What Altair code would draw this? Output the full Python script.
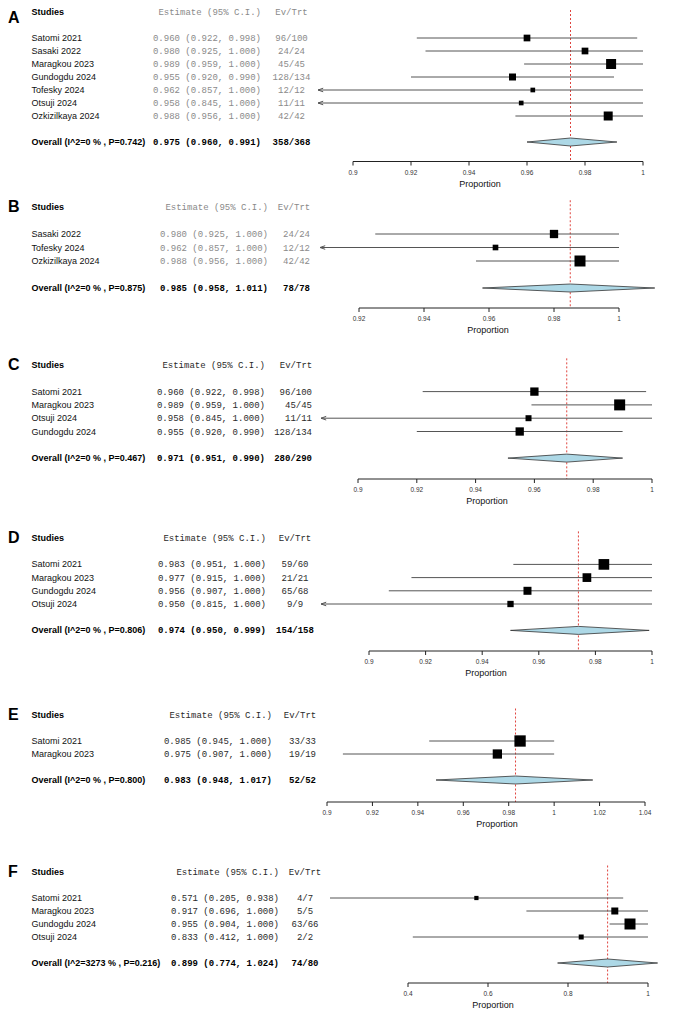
import altair as alt
import pandas as pd

# ---------------- data ----------------
A_studies = ["Satomi 2021", "Sasaki 2022", "Maragkou 2023", "Gundogdu 2024",
             "Tofesky 2024", "Otsuji 2024", "Ozkizilkaya 2024"]
A_est = [0.960, 0.980, 0.989, 0.955, 0.962, 0.958, 0.988]
A_lo = [0.922, 0.925, 0.959, 0.920, 0.857, 0.845, 0.956]
A_hi = [0.998, 1.000, 1.000, 0.990, 1.000, 1.000, 1.000]
A_ev = [96, 24, 45, 128, 12, 11, 42]
A_n = [100, 24, 45, 134, 12, 11, 42]
A_w = [45, 45, 100, 49, 22, 22, 81]
A_overall = [0.975, 0.960, 0.991, 358, 368]
A_label = "Overall (I^2=0 % , P=0.742)"

B_studies = ["Sasaki 2022", "Tofesky 2024", "Ozkizilkaya 2024"]
B_est = [0.980, 0.962, 0.988]
B_lo = [0.925, 0.857, 0.956]
B_hi = [1.000, 1.000, 1.000]
B_ev = [24, 12, 42]
B_n = [24, 12, 42]
B_w = [69, 32, 121]
B_overall = [0.985, 0.958, 1.011, 78, 78]
B_label = "Overall (I^2=0 % , P=0.875)"

C_studies = ["Satomi 2021", "Maragkou 2023", "Otsuji  2024", "Gundogdu 2024"]
C_est = [0.960, 0.989, 0.958, 0.955]
C_lo = [0.922, 0.959, 0.845, 0.920]
C_hi = [0.998, 1.000, 1.000, 0.990]
C_ev = [96, 45, 11, 128]
C_n = [100, 45, 11, 134]
C_w = [69, 121, 36, 69]
C_overall = [0.971, 0.951, 0.990, 280, 290]
C_label = "Overall (I^2=0 % , P=0.467)"

D_studies = ["Satomi 2021", "Maragkou 2023", "Gundogdu 2024", "Otsuji 2024"]
D_est = [0.983, 0.977, 0.956, 0.950]
D_lo = [0.951, 0.915, 0.907, 0.815]
D_hi = [1.000, 1.000, 1.000, 1.000]
D_ev = [59, 21, 65, 9]
D_n = [60, 21, 68, 9]
D_w = [114, 76, 64, 40]
D_overall = [0.974, 0.950, 0.999, 154, 158]
D_label = "Overall (I^2=0 % , P=0.806)"

E_studies = ["Satomi 2021", "Maragkou 2023"]
E_est = [0.985, 0.975]
E_lo = [0.945, 0.907]
E_hi = [1.000, 1.000]
E_ev = [33, 19]
E_n = [33, 19]
E_w = [128, 86]
E_overall = [0.983, 0.948, 1.017, 52, 52]
E_label = "Overall (I^2=0 % , P=0.800)"

F_studies = ["Satomi 2021", "Maragkou 2023", "Gundogdu 2024", "Otsuji 2024"]
F_est = [0.571, 0.917, 0.955, 0.833]
F_lo = [0.205, 0.696, 0.904, 0.412]
F_hi = [0.938, 1.000, 1.000, 1.000]
F_ev = [4, 5, 63, 2]
F_n = [7, 5, 66, 2]
F_w = [18, 49, 121, 25]
F_overall = [0.899, 0.774, 1.024, 74, 80]
F_label = "Overall (I^2=3273 % , P=0.216)"

ticks_A = [0.9, 0.92, 0.94, 0.96, 0.98, 1.0]
ticks_B = [0.92, 0.94, 0.96, 0.98, 1.0]
ticks_C = [0.9, 0.92, 0.94, 0.96, 0.98, 1.0]
ticks_D = [0.9, 0.92, 0.94, 0.96, 0.98, 1.0]
ticks_E = [0.9, 0.92, 0.94, 0.96, 0.98, 1.0, 1.02, 1.04]
ticks_F = [0.4, 0.6, 0.8, 1.0]

# ---------------- layout / style ----------------
W = 664
SANS = "Liberation Sans, Arial, Helvetica, sans-serif"
MONO = "Liberation Mono, Courier New, monospace"
GREY_MONO = "#8a8a8a"
DARK_MONO = "#2a2a2a"
CI_COLOR = "#555555"
RED = "#e0443e"
ARROW = "M0,0L2.6,-0.9M0,0L2.6,0.9"

panels = [
    dict(letter="A", letter_dy=6, studies=A_studies, est=A_est, lo=A_lo, hi=A_hi, ev=A_ev, n=A_n, w=A_w,
         ov=A_overall, label=A_label, ticks=ticks_A, tick_px=(353, 643),
         header_y=10, s=13.0, top=8, bottom=192, axis_y=159.5, clip_px=318,
         est_right=261, ev_x=291.5, ev_align="center", mono=GREY_MONO, title_x=480),
    dict(letter="B", letter_dy=0, studies=B_studies, est=B_est, lo=B_lo, hi=B_hi, ev=B_ev, n=B_n, w=B_w,
         ov=B_overall, label=B_label, ticks=ticks_B, tick_px=(359, 619),
         header_y=205, s=13.5, top=192, bottom=350, axis_y=306, clip_px=320,
         est_right=268, ev_x=310, ev_align="right", mono=GREY_MONO, title_x=488),
    dict(letter="C", letter_dy=0, studies=C_studies, est=C_est, lo=C_lo, hi=C_hi, ev=C_ev, n=C_n, w=C_w,
         ov=C_overall, label=C_label, ticks=ticks_C, tick_px=(358, 652),
         header_y=363, s=13.3, top=350, bottom=520, axis_y=477, clip_px=321,
         est_right=265, ev_x=312, ev_align="right", mono=DARK_MONO, title_x=487),
    dict(letter="D", letter_dy=0, studies=D_studies, est=D_est, lo=D_lo, hi=D_hi, ev=D_ev, n=D_n, w=D_w,
         ov=D_overall, label=D_label, ticks=ticks_D, tick_px=(369, 652),
         header_y=536, s=13.2, top=520, bottom=695, axis_y=649, clip_px=321,
         est_right=266, ev_x=295, ev_align="center", mono=DARK_MONO, title_x=486),
    dict(letter="E", letter_dy=0, studies=E_studies, est=E_est, lo=E_lo, hi=E_hi, ev=E_ev, n=E_n, w=E_w,
         ov=E_overall, label=E_label, ticks=ticks_E, tick_px=(327, 645),
         header_y=713, s=13.0, top=695, bottom=850, axis_y=800, clip_px=300,
         est_right=272, ev_x=316, ev_align="right", mono=DARK_MONO, title_x=497),
    dict(letter="F", letter_dy=0, studies=F_studies, est=F_est, lo=F_lo, hi=F_hi, ev=F_ev, n=F_n, w=F_w,
         ov=F_overall, label=F_label, ticks=ticks_F, tick_px=(408, 648),
         header_y=870, s=13.0, top=850, bottom=1009, axis_y=981, clip_px=300,
         est_right=279, ev_x=305, ev_align="center", mono=DARK_MONO, title_x=493),
]


def build(p):
    n = len(p["studies"])
    s = p["s"]
    hy = p["header_y"]

    def u_of(ref_y):
        return (ref_y - hy) / s

    u_top, u_bot = u_of(p["top"]), u_of(p["bottom"])
    axis_u = u_of(p["axis_y"])
    height = p["bottom"] - p["top"]
    ticks = p["ticks"]
    t0, t1 = ticks[0], ticks[-1]
    px0, px1 = p["tick_px"]
    k = (px1 - px0) / (t1 - t0)
    vL = t0 - (px0 - 8) / k
    vR = t0 + (8 + W - px0) / k
    clip = t0 + (p["clip_px"] - px0) / k

    xs = alt.Scale(domain=[vL, vR], nice=False, zero=False)
    ys = alt.Scale(domain=[u_top, u_bot], nice=False, zero=False, reverse=True)

    def X(f):
        return alt.X(f, type="quantitative", scale=xs, axis=None)

    def Y(f):
        return alt.Y(f, type="quantitative", scale=ys, axis=None)

    rows = pd.DataFrame({
        "study": p["studies"], "est": p["est"], "lo": p["lo"], "hi": p["hi"],
        "u": [2 + i for i in range(n)],
        "area": p["w"],
    })
    rows["lo_c"] = rows["lo"].clip(lower=clip)
    rows["arrow"] = rows["lo"] < clip
    rows["est_txt"] = [f"{e:.3f} ({l:.3f}, {h:.3f})" for e, l, h in zip(p["est"], p["lo"], p["hi"])]
    rows["ev_txt"] = [f"{a}/{b}" for a, b in zip(p["ev"], p["n"])]

    ov_est, ov_lo, ov_hi, ov_ev, ov_n = p["ov"]
    u_ov = n + 3
    h = 4.0 / s

    layers = []
    red = pd.DataFrame({"x": [ov_est], "u": [max(u_top, -0.5)], "u2": [axis_u]})
    layers.append(alt.Chart(red).mark_rule(color=RED, strokeDash=[2, 2], strokeWidth=1)
                  .encode(x=X("x"), y=Y("u"), y2="u2"))
    layers.append(alt.Chart(rows).mark_rule(color=CI_COLOR, strokeWidth=1)
                  .encode(x=X("lo_c"), x2="hi", y=Y("u")))
    arr = rows[rows["arrow"]]
    if len(arr):
        layers.append(alt.Chart(arr).mark_point(shape=ARROW, size=16, filled=False, color=CI_COLOR,
                                                strokeWidth=1, opacity=1)
                      .encode(x=X("lo_c"), y=Y("u")))
    layers.append(alt.Chart(rows).mark_square(color="black", opacity=1)
                  .encode(x=X("est"), y=Y("u"), size=alt.Size("area:Q", scale=None, legend=None)))
    dia = pd.DataFrame({"x": [ov_lo, ov_est, ov_hi],
                        "y1": [u_ov, u_ov - h, u_ov], "y2": [u_ov, u_ov + h, u_ov]})
    layers.append(alt.Chart(dia).mark_area(orient="vertical", fill="#add8e6", stroke="#333333",
                                           strokeWidth=0.8, opacity=1)
                  .encode(x=X("x"), y=Y("y1"), y2="y2"))
    ax = pd.DataFrame({"x": [t0], "x2": [t1], "u": [axis_u]})
    layers.append(alt.Chart(ax).mark_rule(color="#222222", strokeWidth=1)
                  .encode(x=X("x"), x2="x2", y=Y("u")))
    tk = pd.DataFrame({"x": ticks, "u": [axis_u] * len(ticks), "u2": [axis_u + 4 / s] * len(ticks),
                       "ul": [axis_u + 11 / s] * len(ticks), "lab": [f"{t:g}" for t in ticks]})
    layers.append(alt.Chart(tk).mark_rule(color="#222222", strokeWidth=1)
                  .encode(x=X("x"), y=Y("u"), y2="u2"))
    layers.append(alt.Chart(tk).mark_text(font=SANS, fontSize=6.5, color="#333333", baseline="middle")
                  .encode(x=X("x"), y=Y("ul"), text="lab:N"))
    ttl = pd.DataFrame({"u": [axis_u + 22 / s], "t": ["Proportion"]})
    layers.append(alt.Chart(ttl).mark_text(font=SANS, fontSize=9, color="#111111", baseline="middle",
                                           align="center")
                  .encode(x=alt.value(p["title_x"] - 8), y=Y("u"), text="t:N"))

    hdr = pd.DataFrame({"u": [0.0], "L": [p["letter"]], "S": ["Studies"],
                        "E": ["Estimate (95% C.I.)"], "V": ["Ev/Trt"]})
    ovd = pd.DataFrame({"u": [u_ov], "S": [p["label"]],
                        "E": [f"{ov_est:.3f} ({ov_lo:.3f}, {ov_hi:.3f})"],
                        "V": [f"{ov_ev}/{ov_n}"]})
    layers.append(alt.Chart(hdr).mark_text(font=SANS, fontSize=16, fontWeight="bold", color="black",
                                           align="left", baseline="middle", dy=p["letter_dy"])
                  .encode(x=alt.value(0), y=Y("u"), text="L:N"))
    layers.append(alt.Chart(hdr).mark_text(font=SANS, fontSize=9, fontWeight="bold", color="black",
                                           align="left", baseline="middle")
                  .encode(x=alt.value(23.5), y=Y("u"), text="S:N"))
    layers.append(alt.Chart(hdr).mark_text(font=MONO, fontSize=9, color=p["mono"],
                                           align="right", baseline="middle")
                  .encode(x=alt.value(p["est_right"] - 8), y=Y("u"), text="E:N"))
    layers.append(alt.Chart(hdr).mark_text(font=MONO, fontSize=9, color=p["mono"],
                                           align="center", baseline="middle")
                  .encode(x=alt.value(p["ev_x"] - 8 if p["ev_align"] == "center" else p["ev_x"] - 8 - 16),
                          y=Y("u"), text="V:N"))
    layers.append(alt.Chart(rows).mark_text(font=SANS, fontSize=9, color="#111111",
                                            align="left", baseline="middle")
                  .encode(x=alt.value(23.5), y=Y("u"), text="study:N"))
    layers.append(alt.Chart(rows).mark_text(font=MONO, fontSize=9, color=p["mono"],
                                            align="right", baseline="middle")
                  .encode(x=alt.value(p["est_right"] - 8), y=Y("u"), text="est_txt:N"))
    layers.append(alt.Chart(rows).mark_text(font=MONO, fontSize=9, color=p["mono"],
                                            align=p["ev_align"], baseline="middle")
                  .encode(x=alt.value(p["ev_x"] - 8), y=Y("u"), text="ev_txt:N"))
    layers.append(alt.Chart(ovd).mark_text(font=SANS, fontSize=9, fontWeight="bold", color="black",
                                           align="left", baseline="middle")
                  .encode(x=alt.value(23.5), y=Y("u"), text="S:N"))
    layers.append(alt.Chart(ovd).mark_text(font=MONO, fontSize=9, fontWeight="bold", color="black",
                                           align="right", baseline="middle")
                  .encode(x=alt.value(p["est_right"] - 8), y=Y("u"), text="E:N"))
    layers.append(alt.Chart(ovd).mark_text(font=MONO, fontSize=9, fontWeight="bold", color="black",
                                           align=p["ev_align"], baseline="middle")
                  .encode(x=alt.value(p["ev_x"] - 8), y=Y("u"), text="V:N"))

    return alt.layer(*layers).properties(width=W, height=height)


chart = alt.vconcat(*[build(p) for p in panels], spacing=0, bounds="flush").resolve_scale(
    x="independent", y="independent", size="independent"
).properties(padding=0).configure_view(stroke=None)

chart.save("out.html", embed_options={"renderer": "svg", "actions": False})
